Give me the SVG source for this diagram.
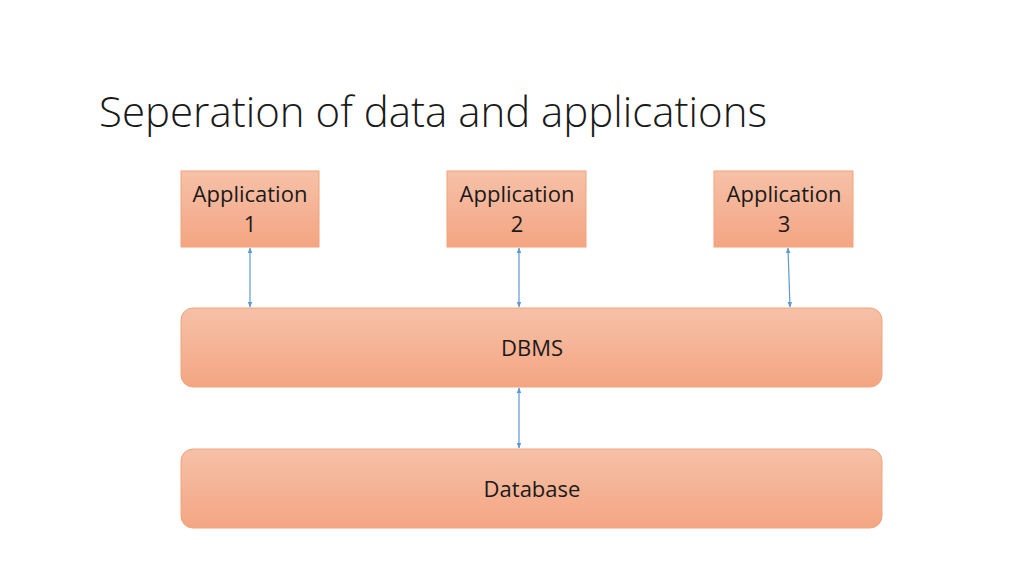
<svg xmlns="http://www.w3.org/2000/svg" width="1024" height="576" viewBox="0 0 1024 576">
<defs>
<linearGradient id="g" x1="0" y1="0" x2="0" y2="1">
<stop offset="0" stop-color="#f6c1a8"/>
<stop offset="1" stop-color="#f4a582"/>
</linearGradient>
<marker id="ah" viewBox="0 0 10 10" refX="9" refY="5" markerWidth="6" markerHeight="6" orient="auto-start-reverse" markerUnits="userSpaceOnUse">
<path d="M0,1 L10,5 L0,9 Z" fill="#5b9bd5"/>
</marker>
<style>
.box{fill:url(#g);stroke:#f0a478;stroke-width:1}
.t{font-family:"Open Sans","Noto Sans",sans-serif;font-size:22px;fill:#1a1a1a;text-anchor:middle}
.title{font-family:"Open Sans","Noto Sans",sans-serif;font-weight:300;font-size:42px;fill:#1a1a1a}
.c{stroke:#5b9bd5;stroke-width:1.2;fill:none;marker-start:url(#ah);marker-end:url(#ah)}
</style>
</defs>
<rect width="1024" height="576" fill="#fff"/>
<text class="title" x="99" y="127">Seperation of data and applications</text>
<g id="connectors">
<line class="c" x1="250" y1="248" x2="250" y2="307"/>
<line class="c" x1="519" y1="248" x2="519" y2="307"/>
<line class="c" x1="788" y1="248" x2="790" y2="307"/>
<line class="c" x1="519" y1="388" x2="519" y2="448"/>
</g>
<g id="app1">
<rect class="box" x="181" y="171" width="138" height="76"/>
<text class="t" x="250" y="202">Application</text>
<text class="t" x="250" y="232">1</text>
</g>
<g id="app2">
<rect class="box" x="447" y="171" width="139" height="76"/>
<text class="t" x="517" y="202">Application</text>
<text class="t" x="517" y="232">2</text>
</g>
<g id="app3">
<rect class="box" x="714" y="171" width="139" height="76"/>
<text class="t" x="784" y="202">Application</text>
<text class="t" x="784" y="232">3</text>
</g>
<g id="dbms">
<rect class="box" x="181" y="308" width="701" height="79" rx="12"/>
<text class="t" x="532" y="356">DBMS</text>
</g>
<g id="database">
<rect class="box" x="181" y="449" width="701" height="79" rx="12"/>
<text class="t" x="532" y="497">Database</text>
</g>
</svg>
